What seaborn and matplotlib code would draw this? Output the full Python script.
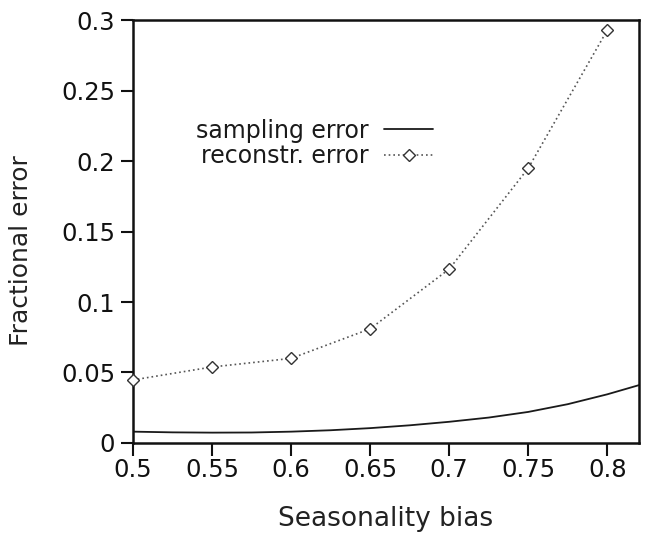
import matplotlib
matplotlib.use("Agg")
import matplotlib.pyplot as plt
import seaborn as sns
import pandas as pd

# Data
recon_x = [0.5, 0.55, 0.6, 0.65, 0.7, 0.75, 0.8]
recon_y = [0.0447, 0.0539, 0.0600, 0.0810, 0.1234, 0.1950, 0.2930]

samp_x = [0.5, 0.525, 0.55, 0.575, 0.6, 0.625, 0.65, 0.675, 0.7, 0.725, 0.75, 0.775, 0.8, 0.82]
samp_y = [0.0080, 0.0075, 0.0073, 0.0074, 0.0080, 0.0090, 0.0105, 0.0125, 0.0150, 0.0180,
          0.0220, 0.0275, 0.0345, 0.0410]

x_ticks = [0.5, 0.55, 0.6, 0.65, 0.7, 0.75, 0.8]
x_tick_labels = ["0.5", "0.55", "0.6", "0.65", "0.7", "0.75", "0.8"]
y_ticks = [0, 0.05, 0.1, 0.15, 0.2, 0.25, 0.3]
y_tick_labels = ["0", "0.05", "0.1", "0.15", "0.2", "0.25", "0.3"]

sns.set_style("white")
plt.rcParams["font.family"] = ["DejaVu Sans"]

fig = plt.figure(figsize=(6.46, 5.33), dpi=100)
ax = fig.add_axes([0.206, 0.169, 0.783, 0.793])

samp_df = pd.DataFrame({"x": samp_x, "y": samp_y})
recon_df = pd.DataFrame({"x": recon_x, "y": recon_y})

sns.lineplot(data=samp_df, x="x", y="y", ax=ax, color="#1a1a1a", linewidth=1.3,
             label="sampling error")
sns.lineplot(data=recon_df, x="x", y="y", ax=ax, color="#555555", linewidth=1.2,
             linestyle=(0, (1, 1.8)), marker="D", markersize=6.5, markerfacecolor="white",
             markeredgecolor="#333333", markeredgewidth=1.0, label="reconstr. error",
             clip_on=False, zorder=5)

ax.set_xlim(0.5, 0.82)
ax.set_ylim(0, 0.3)
ax.set_xticks(x_ticks)
ax.set_xticklabels(x_tick_labels)
ax.set_yticks(y_ticks)
ax.set_yticklabels(y_tick_labels)

ax.tick_params(axis="both", direction="out", length=9, width=1.5, labelsize=17.5,
               bottom=True, left=True, colors="#111111")
ax.tick_params(axis="x", pad=2)
ax.tick_params(axis="y", pad=4)
for s in ax.spines.values():
    s.set_linewidth(1.8)
    s.set_color("#111111")
    s.set_visible(True)

ax.set_xlabel("Seasonality bias", fontsize=19, labelpad=17, color="#222222")
ax.set_ylabel("Fractional error", fontsize=18, color="#222222")
ax.yaxis.set_label_coords(-0.197, 0.456)

leg = ax.legend(loc="center", bbox_to_anchor=(0.359, 0.709), frameon=False,
                markerfirst=False, fontsize=17, handlelength=2.1, handletextpad=0.65,
                labelspacing=0.05, borderpad=0.2)
for t in leg.get_texts():
    t.set_color("#1a1a1a")

fig.savefig("out.png", dpi=100, facecolor="white")
